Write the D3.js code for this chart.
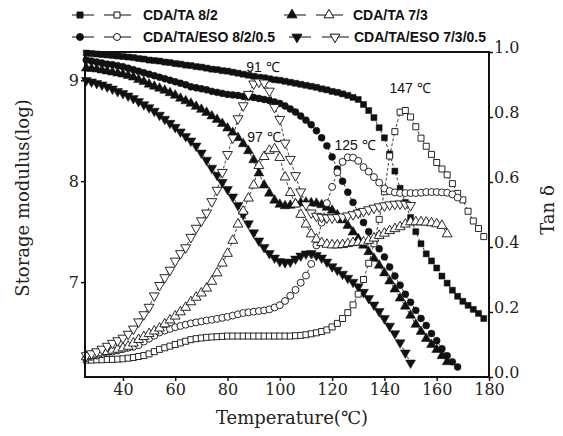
<!DOCTYPE html>
<html>
<head>
<meta charset="utf-8">
<script src="https://cdn.jsdelivr.net/npm/d3@7/dist/d3.min.js"></script>
<style>
body { margin: 0; background: #fff; }
.tick text { font-family: "DejaVu Serif", serif; font-size: 16px; fill: #222; }
.legend text { font-family: "Liberation Sans", Arial, sans-serif; font-size: 14px; font-weight: bold; fill: #111; }
.peak { font-family: "Liberation Sans", Arial, sans-serif; font-size: 14px; fill: #111; }
.title { font-family: "DejaVu Serif", serif; font-size: 18px; fill: #222; }
</style>
</head>
<body>
<script>
var width = 563,
    height = 436;

// temperature of each measurement (C)
var temps = [26,28,30,32,34,36,38,40,42,44,46,48,50,52,54,56,58,60,62,64,66,68,70,72,74,76,78,80,
  82,84,86,88,90,92,94,96,98,100,102,104,106,108,110,112,114,116,118,120,122,124,126,128,130,
  132,134,136,138,140,142,144,146,148,150,152,154,156,158,160,162,164,166,168,170,172,174,176,178];

// storage modulus (log), left axis
var ta82Modulus = [9.27,9.265,9.26,9.255,9.25,9.245,9.24,9.235,9.23,9.225,9.215,9.21,9.20,9.195,9.19,9.18,
  9.175,9.165,9.16,9.15,9.145,9.135,9.13,9.12,9.11,9.105,9.095,9.09,9.08,9.07,9.06,9.05,9.04,9.03,9.025,
  9.015,9.005,9.00,8.99,8.98,8.97,8.96,8.95,8.94,8.93,8.915,8.905,8.89,8.88,8.865,8.85,8.83,8.81,8.76,
  8.70,8.63,8.53,8.43,8.27,8.10,7.93,7.79,7.64,7.50,7.38,7.28,7.21,7.14,7.06,6.99,6.92,6.86,6.81,6.77,
  6.73,6.69,6.64];
var ta73Modulus = [9.12,9.115,9.11,9.10,9.09,9.08,9.07,9.06,9.045,9.03,9.005,8.985,8.96,8.94,8.92,8.90,
  8.875,8.85,8.82,8.795,8.77,8.74,8.71,8.68,8.645,8.61,8.57,8.525,8.48,8.43,8.37,8.30,8.21,8.08,7.96,
  7.88,7.81,7.77,7.755,7.76,7.775,7.785,7.79,7.785,7.78,7.765,7.74,7.71,7.665,7.615,7.56,7.495,7.43,
  7.365,7.30,7.235,7.165,7.09,7.01,6.93,6.84,6.76,6.67,6.58,6.51,6.44,6.38,6.33,6.27,6.21];
var eso82Modulus = [9.20,9.19,9.18,9.17,9.16,9.155,9.145,9.135,9.12,9.105,9.09,9.075,9.06,9.045,9.03,
  9.015,9.00,8.985,8.97,8.955,8.935,8.925,8.915,8.905,8.89,8.88,8.87,8.86,8.855,8.85,8.84,8.835,8.83,
  8.82,8.81,8.80,8.785,8.77,8.745,8.715,8.685,8.645,8.605,8.56,8.50,8.43,8.35,8.24,8.12,8.00,7.89,
  7.79,7.69,7.59,7.50,7.41,7.33,7.25,7.15,7.06,6.97,6.88,6.80,6.72,6.64,6.57,6.49,6.42,6.34,6.27,
  6.21,6.16];
var eso73Modulus = [9.00,8.985,8.97,8.955,8.935,8.915,8.89,8.87,8.845,8.82,8.79,8.76,8.73,8.695,8.655,
  8.615,8.575,8.535,8.49,8.445,8.40,8.35,8.28,8.21,8.13,8.06,7.99,7.92,7.845,7.76,7.67,7.58,7.49,
  7.41,7.345,7.285,7.24,7.205,7.195,7.20,7.23,7.26,7.28,7.285,7.265,7.24,7.20,7.155,7.12,7.08,7.04,
  7.00,6.955,6.90,6.84,6.775,6.71,6.64,6.565,6.49,6.40,6.30,6.20];

// tan delta, right axis
var ta82Tan = [0.052,0.052,0.053,0.053,0.054,0.054,0.055,0.056,0.058,0.060,0.063,0.066,0.071,0.078,
  0.085,0.090,0.095,0.100,0.105,0.110,0.115,0.118,0.120,0.122,0.123,0.124,0.125,0.126,0.126,0.126,
  0.126,0.126,0.126,0.126,0.126,0.126,0.126,0.126,0.126,0.126,0.127,0.128,0.130,0.133,0.136,0.140,
  0.145,0.154,0.165,0.180,0.198,0.222,0.255,0.300,0.350,0.410,0.485,0.570,0.680,0.755,0.815,0.820,
  0.800,0.770,0.735,0.710,0.685,0.660,0.640,0.622,0.595,0.565,0.545,0.510,0.480,0.457,0.432];
var ta73Tan = [0.062,0.066,0.070,0.074,0.078,0.082,0.085,0.089,0.094,0.104,0.115,0.124,0.133,0.141,
  0.150,0.163,0.175,0.187,0.200,0.214,0.231,0.245,0.258,0.273,0.294,0.320,0.350,0.380,0.420,0.470,
  0.510,0.550,0.590,0.650,0.678,0.697,0.702,0.675,0.615,0.567,0.532,0.500,0.470,0.440,0.424,0.413,
  0.408,0.406,0.406,0.407,0.410,0.413,0.414,0.415,0.420,0.427,0.435,0.442,0.450,0.456,0.462,0.470,
  0.477,0.477,0.477,0.476,0.474,0.471,0.466,0.440];
var eso82Tan = [0.058,0.062,0.066,0.070,0.074,0.078,0.082,0.086,0.090,0.093,0.098,0.109,0.118,0.127,
  0.137,0.143,0.148,0.153,0.157,0.161,0.165,0.168,0.171,0.174,0.176,0.179,0.182,0.185,0.189,0.193,
  0.197,0.199,0.201,0.203,0.205,0.208,0.214,0.221,0.234,0.250,0.268,0.290,0.312,0.348,0.405,0.475,
  0.535,0.585,0.630,0.662,0.676,0.675,0.665,0.646,0.632,0.615,0.598,0.580,0.572,0.568,0.566,0.566,
  0.566,0.566,0.567,0.569,0.569,0.569,0.568,0.567,0.562,0.552];
var eso73Tan = [0.066,0.072,0.078,0.086,0.095,0.104,0.112,0.120,0.132,0.148,0.170,0.192,0.215,0.250,
  0.282,0.306,0.329,0.357,0.380,0.398,0.430,0.458,0.481,0.505,0.540,0.575,0.630,0.685,0.736,0.795,
  0.835,0.870,0.902,0.908,0.905,0.880,0.830,0.793,0.720,0.670,0.620,0.570,0.530,0.505,0.495,0.492,
  0.490,0.490,0.491,0.493,0.496,0.500,0.505,0.510,0.515,0.520,0.524,0.527,0.530,0.532,0.533,0.532,
  0.528];

var xTicks = [40, 60, 80, 100, 120, 140, 160, 180];
var modulusTicks = [7, 8, 9];
var tanTicks = [0.0, 0.2, 0.4, 0.6, 0.8, 1.0];

var legendNames = ["CDA/TA 8/2", "CDA/TA 7/3", "CDA/TA/ESO 8/2/0.5", "CDA/TA/ESO 7/3/0.5"];
var peakLabels = ["91 \u2103", "97 \u2103", "125 \u2103", "147 \u2103"];

var svg = d3.select("body").append("svg")
    .attr("width", width)
    .attr("height", height);

var plotL = 85, plotR = 489, plotT = 52, plotB = 377;

var x = d3.scaleLinear().domain([25.5, 180]).range([plotL, plotR]);
var yMod = d3.scaleLinear().domain([6.06, 9.28]).range([plotB, plotT]);
var yTan = d3.scaleLinear().domain([0, 1]).range([plotB, plotT]);

// shapes
var tri = d3.symbol().type(d3.symbolTriangle).size(42);
var sq = d3.symbol().type(d3.symbolSquare).size(36);
var circ = d3.symbol().type(d3.symbolCircle).size(38);

var series = [
  {values: ta82Modulus, y: yMod, shape: sq, rot: 0, open: false},
  {values: eso82Modulus, y: yMod, shape: circ, rot: 0, open: false},
  {values: ta73Modulus, y: yMod, shape: tri, rot: 0, open: false},
  {values: eso73Modulus, y: yMod, shape: tri, rot: 180, open: false},
  {values: ta82Tan, y: yTan, shape: sq, rot: 0, open: true},
  {values: eso82Tan, y: yTan, shape: circ, rot: 0, open: true},
  {values: ta73Tan, y: yTan, shape: tri, rot: 0, open: true},
  {values: eso73Tan, y: yTan, shape: tri, rot: 180, open: true}
];

var line = d3.line();

series.forEach(function(s) {
  var pts = s.values.map(function(v, i) { return [x(temps[i]), s.y(v)]; });
  svg.append("path")
    .attr("d", line(pts))
    .attr("fill", "none")
    .attr("stroke", "#111")
    .attr("stroke-width", 0.8)
    .attr("stroke-dasharray", "3,2");
  svg.append("g").selectAll("path")
    .data(pts)
    .enter().append("path")
    .attr("d", s.shape)
    .attr("transform", function(d) { return "translate(" + d[0] + "," + d[1] + ") rotate(" + s.rot + ")"; })
    .attr("fill", s.open ? "#fff" : "#111")
    .attr("stroke", "#111")
    .attr("stroke-width", s.open ? 0.9 : 0.5);
});

// axes
var gx = svg.append("g")
  .attr("transform", "translate(0," + plotB + ")")
  .call(d3.axisBottom(x).tickValues(xTicks).tickSize(4).tickPadding(3));
var gl = svg.append("g")
  .attr("transform", "translate(" + plotL + ",0)")
  .call(d3.axisLeft(yMod).tickValues(modulusTicks).tickSize(4).tickPadding(2).tickFormat(d3.format("d")));
var gr = svg.append("g")
  .attr("transform", "translate(" + plotR + ",0)")
  .call(d3.axisRight(yTan).tickValues(tanTicks).tickSize(4).tickPadding(1).tickFormat(d3.format(".1f")));
gr.selectAll(".tick text").attr("dy", "0.05em");
[gx, gl, gr].forEach(function(g) {
  g.select(".domain").remove();
  g.selectAll(".tick line").attr("stroke", "#111").attr("stroke-width", 1.5);
});

// frame
svg.append("rect")
  .attr("x", plotL).attr("y", plotT)
  .attr("width", plotR - plotL).attr("height", plotB - plotT)
  .attr("fill", "none").attr("stroke", "#111").attr("stroke-width", 2);

// axis titles
svg.append("text").attr("class", "title")
  .attr("x", (plotL + plotR) / 2 + 5).attr("y", 424)
  .attr("text-anchor", "middle")
  .text("Temperature(\u2103)");
svg.append("text").attr("class", "title")
  .attr("transform", "translate(29,198) rotate(-90)")
  .attr("text-anchor", "middle")
  .text("Storage modulus(log)");
svg.append("text").attr("class", "title")
  .attr("transform", "translate(554,210) rotate(-90)")
  .attr("text-anchor", "middle")
  .text("Tan \u03b4");

// peak labels, placed just above each tan delta maximum
var peakPos = [[263, 72], [264, 142], [355, 150], [410, 93]];
svg.selectAll(".peak").data(peakLabels).enter().append("text")
  .attr("class", "peak")
  .attr("x", function(d, i) { return peakPos[i][0]; })
  .attr("y", function(d, i) { return peakPos[i][1]; })
  .attr("text-anchor", "middle")
  .text(function(d) { return d; });

// legend
var legendItems = [
  {row: 0, mx: [80, 117], tx: 143, shape: sq, rot: 0, name: legendNames[0]},
  {row: 0, mx: [292, 329], tx: 353, shape: tri, rot: 0, name: legendNames[1]},
  {row: 1, mx: [80, 117], tx: 143, shape: circ, rot: 0, name: legendNames[2]},
  {row: 1, mx: [297, 335], tx: 354, shape: tri, rot: 180, name: legendNames[3]}
];
var legend = svg.append("g").attr("class", "legend");
legendItems.forEach(function(d) {
  var ly = d.row === 0 ? 15 : 37;
  d.mx.forEach(function(mx, k) {
    legend.append("line")
      .attr("x1", mx - (k === 0 ? 8 : 13)).attr("x2", mx + 14)
      .attr("y1", ly).attr("y2", ly)
      .attr("stroke", "#111").attr("stroke-width", 1);
    legend.append("path")
      .attr("d", d.shape)
      .attr("transform", "translate(" + mx + "," + ly + ") rotate(" + d.rot + ")")
      .attr("fill", k === 0 ? "#111" : "#fff")
      .attr("stroke", "#111").attr("stroke-width", 1);
  });
  legend.append("text")
    .attr("x", d.tx).attr("y", ly + 5)
    .text(d.name);
});
</script>
</body>
</html>
